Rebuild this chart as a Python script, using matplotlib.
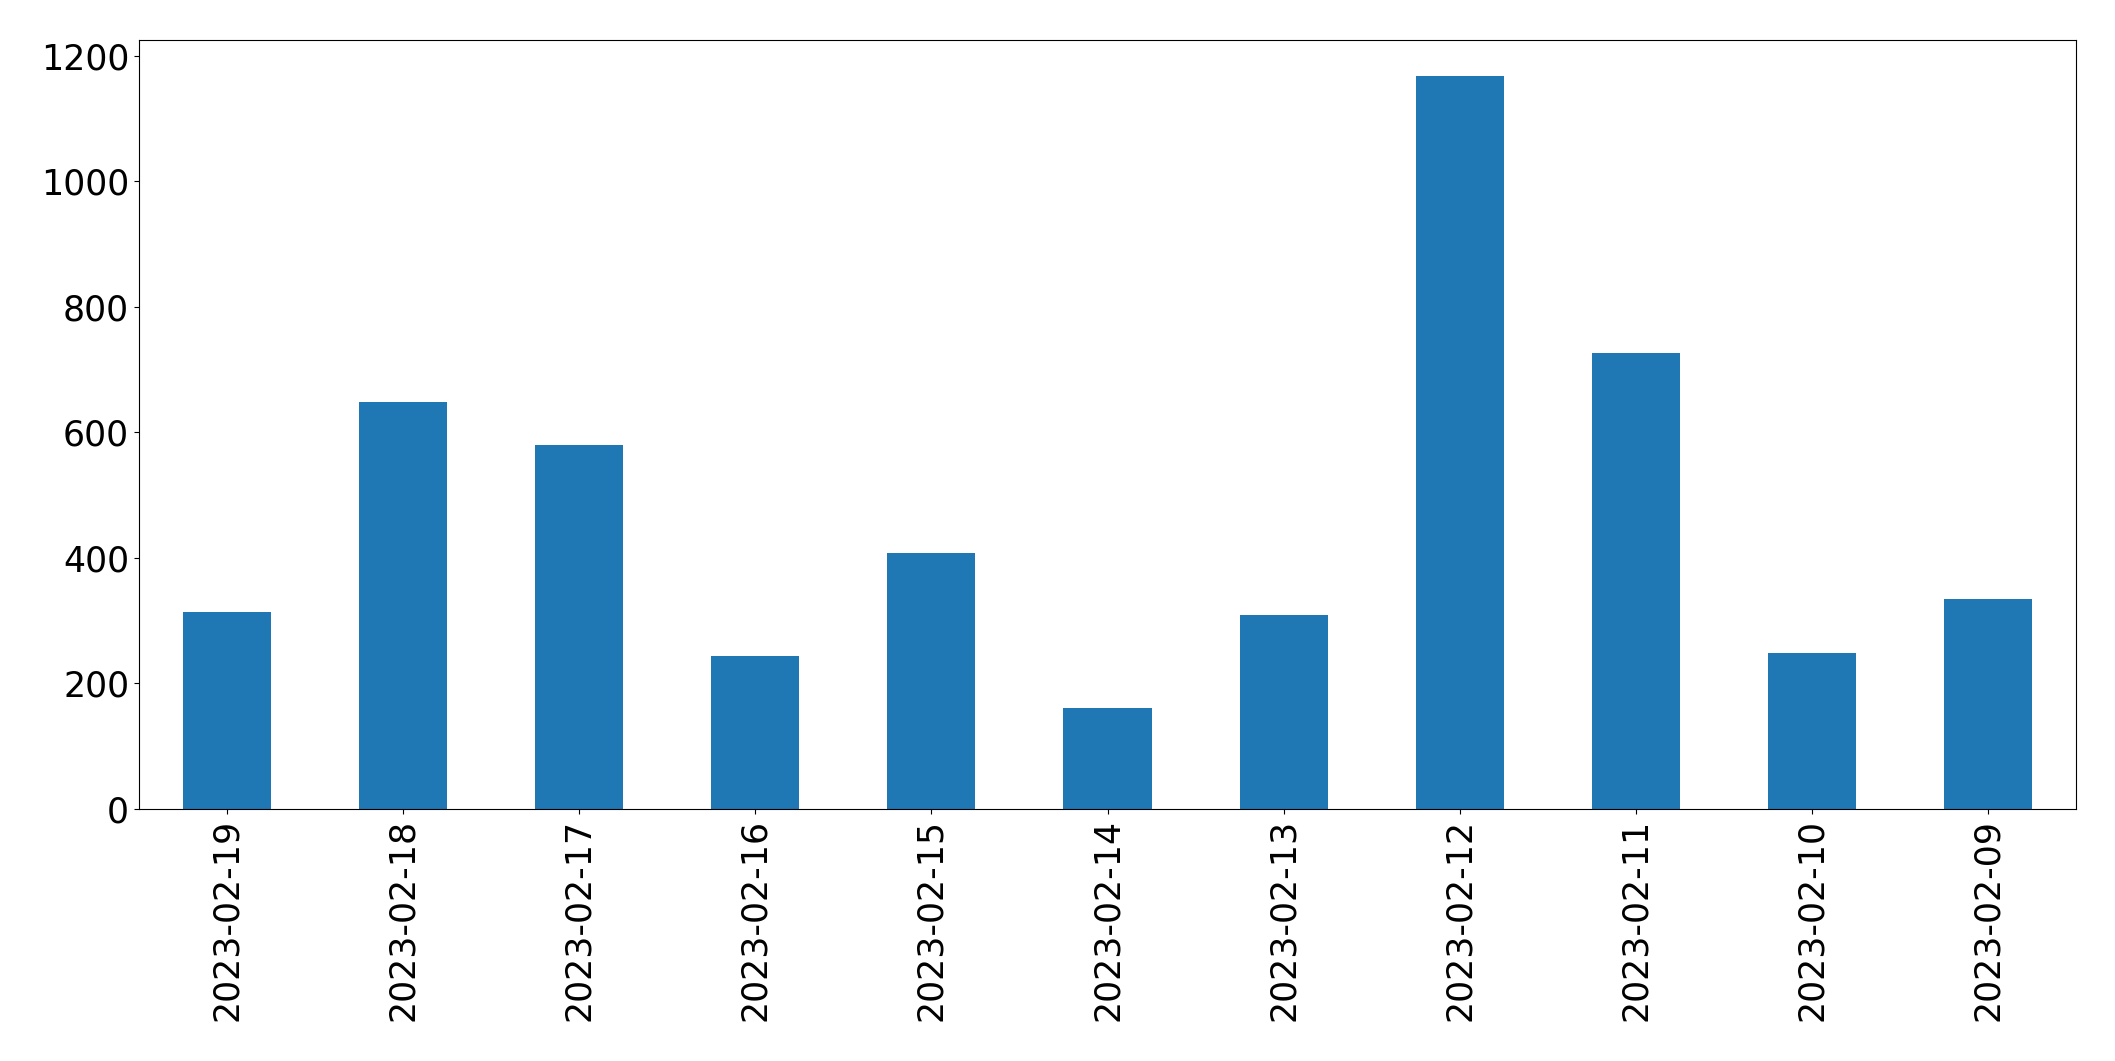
import matplotlib
matplotlib.use("Agg")
import matplotlib.pyplot as plt
import numpy as np

dates = [
    "2023-02-19", "2023-02-18", "2023-02-17", "2023-02-16", "2023-02-15",
    "2023-02-14", "2023-02-13", "2023-02-12", "2023-02-11", "2023-02-10",
    "2023-02-09",
]
counts = [314, 649, 579, 243, 407, 161, 309, 1167, 726, 248, 334]

BAR_COLOR = "#1f77b4"

fig = plt.figure(figsize=(21.15, 10.61), dpi=100)
ax = fig.add_axes([0.0657, 0.2375, 0.9159, 0.7251])

x = np.arange(len(dates))
ax.bar(x, counts, width=0.5, color=BAR_COLOR)
ax.set_xlim(-0.5, len(dates) - 0.5)
ax.set_xticks(x)
ax.set_xticklabels(dates, rotation=90)
ax.tick_params(axis="both", labelsize=25)

fig.savefig("out.png", dpi=100)
